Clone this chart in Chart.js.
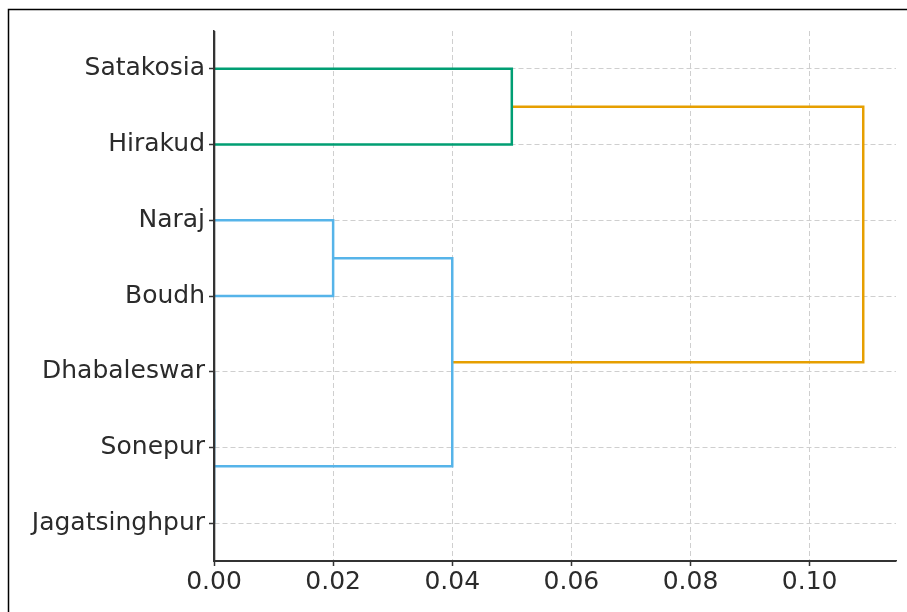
<!DOCTYPE html>
<html>
<head>
<meta charset="utf-8">
<script src="https://cdn.jsdelivr.net/npm/chart.js@4.4.0/dist/chart.umd.min.js"></script>
<style>
  html, body { margin: 0; padding: 0; background: #fff; }
  #wrap { width: 907px; height: 612px; position: relative; }
</style>
</head>
<body>
<div id="wrap"><canvas id="myChart" width="907" height="612"></canvas></div>
<script>
// leaves, bottom to top (dendrogram positions 5, 15, ... 65)
const leafLabels = ['Jagatsinghpur', 'Sonepur', 'Dhabaleswar', 'Boudh', 'Naraj', 'Hirakud', 'Satakosia'];
const leafPos = [5, 15, 25, 35, 45, 55, 65];

// links like scipy icoord / dcoord: [a, a, b, b] and [da, h, h, db]
const linkY = [
    [15, 15, 25, 25],
    [5, 5, 20, 20],
    [35, 35, 45, 45],
    [12.5, 12.5, 40, 40],
    [55, 55, 65, 65],
    [26.25, 26.25, 60, 60]
];
const linkD = [
    [0, 0, 0, 0],
    [0, 0, 0, 0],
    [0, 0.02, 0.02, 0],
    [0, 0.04, 0.04, 0.02],
    [0, 0.05, 0.05, 0],
    [0.04, 0.109, 0.109, 0.05]
];
const linkGroup = ['blue', 'blue', 'blue', 'blue', 'green', 'orange'];

const xTicks = [0, 0.02, 0.04, 0.06, 0.08, 0.10];

const colors = { blue: '#56B4E9', green: '#009E73', orange: '#E69F00' };

var datasets = linkY.map(function (ys, i) {
    return {
        data: ys.map(function (y, j) { return { x: linkD[i][j], y: y }; }),
        borderColor: colors[linkGroup[i]],
        borderWidth: 2.5,
        showLine: true,
        pointRadius: 0,
        tension: 0,
        fill: false
    };
});

var frame = {
    id: 'frame',
    beforeDraw: function (chart) {
        var ctx = chart.ctx;
        ctx.save();
        ctx.fillStyle = '#fff';
        ctx.fillRect(0, 0, chart.width, chart.height);
        ctx.strokeStyle = '#000';
        ctx.lineWidth = 1.5;
        ctx.beginPath();
        ctx.moveTo(8.5, chart.height);
        ctx.lineTo(8.5, 9.5);
        ctx.lineTo(chart.width, 9.5);
        ctx.stroke();
        ctx.restore();
    },
    afterDatasetsDraw: function (chart) {
        // spine goes over the zero-height links
        var a = chart.chartArea, ctx = chart.ctx;
        ctx.save();
        ctx.strokeStyle = '#333';
        ctx.lineWidth = 2;
        ctx.setLineDash([]);
        ctx.beginPath();
        ctx.moveTo(a.left + 0.3, a.top);
        ctx.lineTo(a.left + 0.3, a.bottom);
        ctx.lineTo(a.right, a.bottom);
        ctx.stroke();
        ctx.restore();
    }
};

function gridOpts() {
    return {
        color: '#cfcfcf',
        lineWidth: 1,
        tickColor: '#333',
        tickLength: 5,
        tickWidth: 1.5,
        tickBorderDash: []
    };
}

const ctx = document.getElementById('myChart').getContext('2d');
const myChart = new Chart(ctx, {
    type: 'scatter',
    data: { datasets: datasets },
    plugins: [frame],
    options: {
        responsive: false,
        animation: false,
        layout: { padding: { top: 31, right: 11, left: 0, bottom: 0 } },
        plugins: { legend: { display: false }, tooltip: { enabled: false } },
        scales: {
            x: {
                type: 'linear',
                min: 0,
                max: 0.1145,
                afterBuildTicks: function (scale) {
                    scale.ticks = xTicks.map(function (v) { return { value: v }; });
                },
                afterFit: function (scale) { scale.height = 51; },
                ticks: {
                    color: '#2b2b2b',
                    font: { family: 'DejaVu Sans', size: 25 },
                    padding: 1,
                    maxRotation: 0,
                    callback: function (v) { return Number(v).toFixed(2); }
                },
                grid: gridOpts(),
                border: { display: true, color: '#333', width: 1.5, dash: [5, 3] }
            },
            y: {
                type: 'linear',
                min: 0,
                max: 70,
                afterBuildTicks: function (scale) {
                    scale.ticks = leafPos.map(function (v) { return { value: v }; });
                },
                afterFit: function (scale) { scale.width = 214; },
                ticks: {
                    color: '#2b2b2b',
                    font: { family: 'DejaVu Sans', size: 25 },
                    padding: 4,
                    callback: function (v) {
                        var i = leafPos.indexOf(v);
                        return i >= 0 ? leafLabels[i] : '';
                    }
                },
                grid: gridOpts(),
                border: { display: true, color: '#333', width: 1.5, dash: [5, 3] }
            }
        }
    }
});
</script>
</body>
</html>
